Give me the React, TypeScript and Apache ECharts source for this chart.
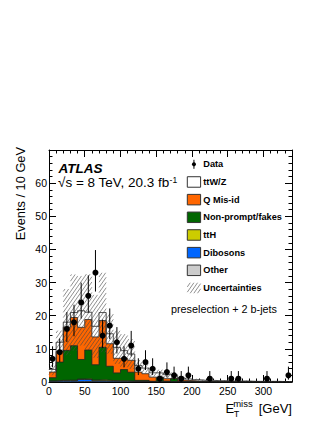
import React, { useEffect, useRef } from 'react';
import * as echarts from 'echarts';

// ---- data (10 GeV bins, E_T^miss 0-340 GeV) ----
const binLow = [0, 10, 20, 30, 40, 50, 60, 70, 80, 90, 100, 110, 120, 130, 140, 150, 160, 170, 180, 190, 200, 210, 220, 230, 240, 250, 260, 270, 280, 290, 300, 310, 320, 330];
const binHigh = [10, 20, 30, 40, 50, 60, 70, 80, 90, 100, 110, 120, 130, 140, 150, 160, 170, 180, 190, 200, 210, 220, 230, 240, 250, 260, 270, 280, 290, 300, 310, 320, 330, 340];

const dataCounts = [7, 9, 16, 18, 24, 26, 33, 14, 17, 12, 7, 11, 4, 6, 4, 1, 3, 2, 1, 2, 0, 0, 1, 0, 0, 1, 1, 0, 0, 0, 1, 0, 0, 2];
const dataErrLow = [2.58, 2.94, 3.96, 4.2, 4.86, 5.06, 5.71, 3.7, 4.08, 3.41, 2.58, 3.26, 1.91, 2.38, 1.91, 0.83, 1.63, 1.29, 0.83, 1.29, 0, 0, 0.83, 0, 0, 0.83, 0.83, 0, 0, 0, 0.83, 0, 0, 1.29];
const dataErrHigh = [3.77, 4.11, 5.08, 5.32, 5.97, 6.17, 6.81, 4.83, 5.2, 4.57, 3.77, 4.42, 3.16, 3.58, 3.16, 2.3, 2.92, 2.64, 2.3, 2.64, 0, 0, 2.3, 0, 0, 2.3, 2.3, 0, 0, 0, 2.3, 0, 0, 2.64];

const other = [0.05, 0.1, 0.1, 0.1, 0.15, 0.15, 0.1, 0.1, 0.1, 0.05, 0.05, 0.05, 0.05, 0.05, 0.02, 0.02, 0.02, 0.02, 0.02, 0.02, 0.01, 0.01, 0.01, 0.01, 0.01, 0.01, 0.01, 0.01, 0.01, 0.01, 0.01, 0.01, 0.01, 0.01];
const dibosons = [0.2, 0.3, 0.3, 0.3, 0.6, 0.6, 0.3, 0.3, 0.2, 0.2, 0.2, 0.1, 0.1, 0.1, 0.05, 0.05, 0.05, 0.05, 0.03, 0.03, 0.02, 0.02, 0.02, 0.02, 0.02, 0.01, 0.01, 0.01, 0.01, 0.01, 0.01, 0.01, 0.01, 0.01];
const ttH = [0.05, 0.1, 0.15, 0.15, 0.15, 0.2, 0.2, 0.25, 0.15, 0.1, 0.1, 0.1, 0.05, 0.05, 0.05, 0.05, 0.03, 0.03, 0.02, 0.02, 0.02, 0.02, 0.01, 0.01, 0.01, 0.01, 0.01, 0.01, 0.01, 0.01, 0.01, 0.01, 0.01, 0.01];
const nonPrompt = [1.0, 5.5, 9.0, 10.4, 5.9, 8.7, 4.6, 9.8, 4.3, 2.4, 3.4, 2.7, 0.3, 0.3, 0.1, 1.2, 0.2, 0.9, 0.1, 0.1, 0.05, 0.05, 0.04, 0.02, 0.02, 0.02, 0.02, 0.02, 0.01, 0.01, 0.01, 0.01, 0.01, 0.01];
const qMisId = [1.7, 3.2, 7.0, 8.5, 9.7, 9.2, 8.4, 8.1, 6.8, 4.4, 3.4, 3.6, 2.5, 2.0, 1.25, 0.2, 0.7, 0.2, 0.4, 0.25, 0.2, 0.1, 0.12, 0.09, 0.09, 0.05, 0.05, 0.05, 0.04, 0.04, 0.02, 0.02, 0.01, 0.01];
const ttWZ = [0.8, 2.8, 1.5, 1.5, 5.0, 2.2, 3.2, 2.4, 3.0, 3.3, 2.3, 1.9, 2.0, 1.7, 1.3, 1.2, 1.2, 0.8, 0.7, 0.5, 0.4, 0.3, 0.3, 0.25, 0.25, 0.2, 0.2, 0.2, 0.12, 0.12, 0.14, 0.14, 0.1, 0.1];
const uncertainty = [1.8, 3.5, 10.0, 11.5, 10.5, 11.5, 9.5, 12.0, 6.0, 5.0, 5.0, 4.5, 1.6, 1.4, 1.2, 1.0, 1.0, 0.9, 0.6, 0.4, 0.3, 0.25, 0.25, 0.2, 0.2, 0.15, 0.15, 0.15, 0.1, 0.1, 0.1, 0.1, 0.1, 0.1];

const xTicks = [0, 50, 100, 150, 200, 250, 300];
const yTicks = [0, 10, 20, 30, 40, 50, 60];

const FONT = "'Liberation Sans', Arial, Helvetica, sans-serif";

const stackOrder = [
  { name: 'Other', values: other, color: '#cccccc' },
  { name: 'Dibosons', values: dibosons, color: '#0066ff' },
  { name: 'ttH', values: ttH, color: '#cccc00' },
  { name: 'Non-prompt/fakes', values: nonPrompt, color: '#006600' },
  { name: 'Q Mis-id', values: qMisId, color: '#ff6600' },
  { name: 'ttW/Z', values: ttWZ, color: '#ffffff' },
];

function hatchLines(x0: number, y0: number, x1: number, y1: number, spacing = 3, angleDeg = 55) {
  const a = (angleDeg * Math.PI) / 180;
  const s = Math.sin(a);
  const c = Math.cos(a);
  const out: { x1: number; y1: number; x2: number; y2: number }[] = [];
  const kmin = s * x0 + c * y0;
  const kmax = s * x1 + c * y1;
  for (let k = Math.ceil(kmin / spacing) * spacing; k <= kmax; k += spacing) {
    const xa = Math.max(x0, (k - c * y1) / s);
    const xb = Math.min(x1, (k - c * y0) / s);
    if (xb > xa) {
      out.push({ x1: xa, y1: (k - s * xa) / c, x2: xb, y2: (k - s * xb) / c });
    }
  }
  return out;
}

export default function App() {
  const ref = useRef<HTMLDivElement>(null);
  useEffect(() => {
    const chart = echarts.init(ref.current!, null, { renderer: 'svg' });

    // cumulative stack tops
    const cum: number[][] = [];
    let running = binLow.map(() => 0);
    stackOrder.forEach((layer) => {
      running = running.map((v, i) => v + layer.values[i]);
      cum.push(running.slice());
    });
    const total = cum[cum.length - 1];

    const stepData = (vals: number[]) =>
      binLow.map((x, i) => [x, vals[i]]).concat([[binHigh[binHigh.length - 1], vals[vals.length - 1]]]);

    const stackSeries = stackOrder
      .map((layer, idx) => ({
        type: 'line',
        name: layer.name,
        step: 'end',
        data: stepData(cum[idx]),
        symbol: 'none',
        silent: true,
        lineStyle: { color: '#222', width: 0.8 },
        areaStyle: { color: layer.color, opacity: 1 },
        z: 2,
      }))
      .reverse();

    const bandData = binLow.map((x, i) => [x, binHigh[i], Math.max(0, total[i] - uncertainty[i]), total[i] + uncertainty[i]]);

    const bandSeries = {
      type: 'custom',
      name: 'Uncertainties',
      silent: true,
      z: 3,
      data: bandData,
      encode: { x: [0, 1], y: [2, 3] },
      renderItem: (_p: any, api: any) => {
        const tl = api.coord([api.value(0), api.value(3)]);
        const br = api.coord([api.value(1), api.value(2)]);
        const lines = hatchLines(tl[0], tl[1], br[0], br[1]);
        return {
          type: 'group',
          children: lines.map((l) => ({
            type: 'line',
            shape: l,
            style: { stroke: '#444', lineWidth: 0.6 },
          })),
        };
      },
    };

    const pts = binLow
      .map((x, i) => [(x + binHigh[i]) / 2, dataCounts[i], dataErrLow[i], dataErrHigh[i]])
      .filter((d) => d[1] > 0);

    const dataSeries = {
      type: 'custom',
      name: 'Data',
      silent: true,
      z: 5,
      data: pts,
      encode: { x: 0, y: 1 },
      renderItem: (_p: any, api: any) => {
        const x = api.value(0);
        const n = api.value(1);
        const p = api.coord([x, n]);
        const lo = api.coord([x, n - api.value(2)]);
        const hi = api.coord([x, n + api.value(3)]);
        return {
          type: 'group',
          children: [
            { type: 'line', shape: { x1: lo[0], y1: lo[1], x2: hi[0], y2: hi[1] }, style: { stroke: '#000', lineWidth: 1 } },
            { type: 'circle', shape: { cx: p[0], cy: p[1], r: 3 }, style: { fill: '#000' } },
          ],
        };
      },
    };

    const axisLine = { show: true, onZero: false, lineStyle: { color: '#000', width: 1 } };
    const xBase = {
      type: 'value',
      min: 0,
      max: 340,
      interval: 50,
      axisLine,
      splitLine: { show: false },
      axisTick: { show: true, inside: true, length: 7, lineStyle: { color: '#000', width: 1 } },
      minorTick: { show: true, splitNumber: 5, length: 3.5, lineStyle: { color: '#000', width: 1 } },
    };
    const yBase = {
      type: 'value',
      min: 0,
      max: 70,
      interval: 10,
      axisLine,
      splitLine: { show: false },
      axisTick: { show: true, inside: true, length: 7, lineStyle: { color: '#000', width: 1 } },
      minorTick: { show: true, splitNumber: 5, length: 3.5, lineStyle: { color: '#000', width: 1 } },
    };

    // legend graphics
    const legendX = 187.3;
    const boxW = 13.3;
    const boxH = 10.5;
    const textX = 203.3;
    const y0 = 164.3;
    const dy = 17.67;
    const legendEntries = [
      { name: 'ttW/Z', color: '#ffffff' },
      { name: 'Q Mis-id', color: '#ff6600' },
      { name: 'Non-prompt/fakes', color: '#006600' },
      { name: 'ttH', color: '#cccc00' },
      { name: 'Dibosons', color: '#0066ff' },
      { name: 'Other', color: '#cccccc' },
    ];
    const legendText = (text: string, y: number) => ({
      type: 'text',
      x: textX,
      y,
      style: { text, fill: '#000', fontSize: 9.2, fontWeight: 'bold', fontFamily: FONT, align: 'left', verticalAlign: 'middle', textAlign: 'left', textVerticalAlign: 'middle' },
    });
    const graphics: any[] = [];
    // Data entry
    graphics.push({ type: 'line', shape: { x1: legendX + boxW / 2, y1: y0 - 4.5, x2: legendX + boxW / 2, y2: y0 + 4.5 }, style: { stroke: '#000', lineWidth: 1 } });
    graphics.push({ type: 'circle', shape: { cx: legendX + boxW / 2, cy: y0, r: 2 }, style: { fill: '#000' } });
    graphics.push(legendText('Data', y0));
    legendEntries.forEach((e, i) => {
      const yc = y0 + dy * (i + 1);
      graphics.push({ type: 'rect', shape: { x: legendX, y: yc - boxH / 2, width: boxW, height: boxH }, style: { fill: e.color, stroke: '#333', lineWidth: 1 } });
      graphics.push(legendText(e.name, yc));
    });
    const yu = y0 + dy * 7;
    hatchLines(legendX, yu - boxH / 2, legendX + boxW, yu + boxH / 2).forEach((l) => {
      graphics.push({ type: 'line', shape: l, style: { stroke: '#444', lineWidth: 0.6 } });
    });
    graphics.push(legendText('Uncertainties', yu));

    const txt = (text: string, x: number, y: number, size: number, extra: any = {}) => ({
      type: 'text',
      x,
      y,
      style: { text, fill: '#000', fontSize: size, fontFamily: FONT, align: 'left', verticalAlign: 'middle', textAlign: 'left', textVerticalAlign: 'middle', ...extra },
    });

    graphics.push(txt('preselection + 2 b-jets', 171, 308.5, 10.8));
    graphics.push(txt('ATLAS', 58.5, 168.2, 13.5, { fontWeight: 'bold', fontStyle: 'italic' }));
    graphics.push({
      type: 'text',
      x: 58,
      y: 182.5,
      style: {
        text: '{a|√s = 8 TeV, 20.3 fb}{b|-1}',
        fill: '#000',
        fontFamily: FONT,
        align: 'left',
        verticalAlign: 'middle',
        textAlign: 'left',
        textVerticalAlign: 'middle',
        rich: {
          a: { fontSize: 13.5, fontFamily: FONT, fill: '#000', lineHeight: 15 },
          b: { fontSize: 8.5, fontFamily: FONT, fill: '#000', verticalAlign: 'top', lineHeight: 9 },
        },
      },
    });
    // y-axis title
    graphics.push({
      type: 'text',
      x: 20,
      y: 147,
      rotation: Math.PI / 2,
      style: { text: 'Events / 10 GeV', fill: '#000', fontSize: 12.8, fontFamily: FONT, align: 'right', verticalAlign: 'middle', textAlign: 'right', textVerticalAlign: 'middle' },
    });
    // x-axis title
    graphics.push(txt('E', 225.5, 408.7, 13));
    graphics.push(txt('miss', 233.2, 403.8, 9.5));
    graphics.push(txt('T', 233.8, 414.3, 9));
    graphics.push({
      type: 'text',
      x: 292,
      y: 408.7,
      style: { text: '[GeV]', fill: '#000', fontSize: 13, fontFamily: FONT, align: 'right', verticalAlign: 'middle', textAlign: 'right', textVerticalAlign: 'middle' },
    });

    const option: any = {
      animation: false,
      backgroundColor: '#ffffff',
      grid: { left: 49, right: 40, top: 150, bottom: 48, containLabel: false },
      xAxis: [
        {
          ...xBase,
          position: 'bottom',
          axisLabel: {
            show: true,
            color: '#000',
            fontSize: 10.5,
            fontFamily: FONT,
            margin: 3,
            formatter: (v: number) => (xTicks.indexOf(v) >= 0 ? String(v) : ''),
          },
        },
        { ...xBase, position: 'top', axisLabel: { show: false } },
      ],
      yAxis: [
        {
          ...yBase,
          position: 'left',
          axisLabel: {
            show: true,
            color: '#000',
            fontSize: 10.5,
            fontFamily: FONT,
            margin: 2,
            formatter: (v: number) => (yTicks.indexOf(v) >= 0 ? String(v) : ''),
          },
        },
        { ...yBase, position: 'right', axisLabel: { show: false } },
      ],
      series: [...stackSeries, bandSeries, dataSeries],
      graphic: graphics,
    };
    chart.setOption(option);
    return () => chart.dispose();
  }, []);
  return <div ref={ref} style={{ position: 'fixed', left: 0, top: 0, width: 332, height: 430, background: '#fff' }} />;
}
